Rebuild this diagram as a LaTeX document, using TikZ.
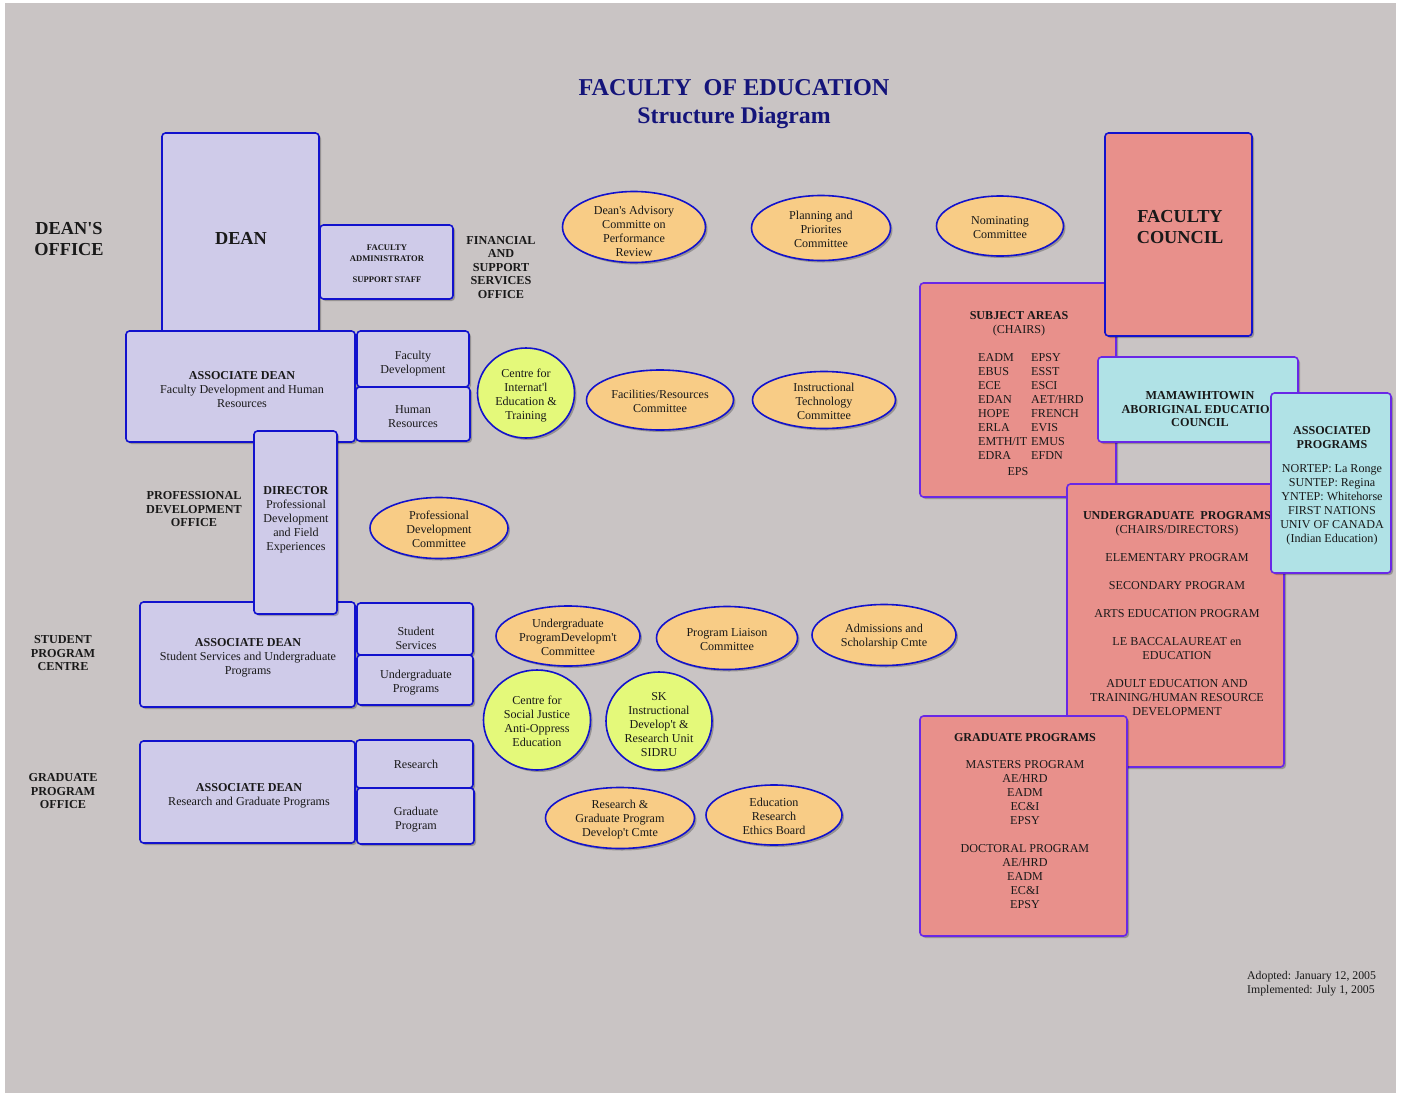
\documentclass[tikz,border=0pt]{standalone}
\usepackage{fontspec}
\setmainfont{Liberation Serif}
\usetikzlibrary{shapes.geometric,shadows}
\definecolor{bggray}{RGB}{201,196,196}
\definecolor{lav}{RGB}{207,203,233}
\definecolor{boxblue}{RGB}{18,18,205}
\definecolor{purp}{RGB}{105,40,230}
\definecolor{orng}{RGB}{248,204,134}
\definecolor{ygrn}{RGB}{228,249,122}
\definecolor{pinkf}{RGB}{232,144,139}
\definecolor{cyanf}{RGB}{176,226,230}
\definecolor{navy}{RGB}{20,20,122}
\newcommand\ap{\textquotesingle}
\begin{document}
\begin{tikzpicture}[x=1pt,y=-1pt,
  shd/.style={drop shadow={shadow xshift=2pt,shadow yshift=-2pt,fill=black,opacity=0.25}},
  box/.style={rectangle,rounded corners=3.5pt,line width=1.6pt,anchor=north west,inner sep=0pt,outer sep=0pt,shd},
  lbox/.style={box,draw=boxblue,fill=lav},
  pbox/.style={box,draw=purp,fill=pinkf},
  cbox/.style={box,draw=purp,fill=cyanf},
  comm/.style={ellipse,draw=boxblue,fill=orng,line width=1.6pt,inner sep=0pt,shd},
  ctr/.style={ellipse,draw=boxblue,fill=ygrn,line width=1.6pt,inner sep=0pt,shd},
  t/.style={font=\fontsize{12.1}{14}\selectfont,align=center,inner sep=0pt,text=black!90,yshift=-1.5pt},
  tb/.style={t,font=\bfseries\fontsize{12.2}{13.5}\selectfont},
  big/.style={t,font=\bfseries\fontsize{18.3}{21}\selectfont},
  lab/.style={t,font=\bfseries\fontsize{12.2}{13.5}\selectfont},
]
\useasboundingbox (0,0) rectangle (1401,1093);
\fill[white] (0,0) rectangle (1401,1093);
\fill[bggray] (5,3) rectangle (1396,1093);

% Title
\node[t,font=\bfseries\fontsize{24.2}{28}\selectfont,text=navy] (title) at (734,86) {FACULTY\ \ OF EDUCATION};
\node[t,font=\bfseries\fontsize{23.8}{28}\selectfont,text=navy] (subtitle) at (734,116) {Structure Diagram};

% Left labels
\node[big] (deansoffice) at (69,238) {DEAN\ap S\\OFFICE};
\node[lab] (finlab) at (501,266) {FINANCIAL\\AND\\SUPPORT\\SERVICES\\OFFICE};
\node[lab] (pdolab) at (194,508) {PROFESSIONAL\\DEVELOPMENT\\OFFICE};
\node[lab] (spclab) at (63,652) {STUDENT\\PROGRAM\\CENTRE};
\node[lab] (gpolab) at (63,790) {GRADUATE\\PROGRAM\\OFFICE};

% Dean's office boxes
\node[lbox,minimum width=157pt,minimum height=200pt] (dean) at (162,133) {};
\node[big] at (241,237) {DEAN};
\node[lbox,minimum width=133pt,minimum height=74pt] (facadmin) at (320,225) {};
\node[t,font=\bfseries\fontsize{8.6}{11}\selectfont] at (387,262) {FACULTY\\ADMINISTRATOR\\[10pt]SUPPORT STAFF};

\node[lbox,minimum width=229pt,minimum height=111pt] (ad1) at (126,331) {};
\node[t] at (242,388) {\textbf{ASSOCIATE DEAN}\\Faculty Development and Human\\Resources};
\node[lbox,minimum width=112pt,minimum height=56pt] (facdev) at (357,331) {};
\node[t] at (413,362) {Faculty\\Development};
\node[lbox,minimum width=114pt,minimum height=54pt] (humres) at (356,387) {};
\node[t] at (413,415) {Human\\Resources};

\node[lbox,minimum width=215pt,minimum height=105pt] (ad2) at (140,602) {};
\node[t] at (248,656) {\textbf{ASSOCIATE DEAN}\\Student Services and Undergraduate\\Programs};
\node[lbox,minimum width=116pt,minimum height=52pt] (studserv) at (357,603) {};
\node[t] at (416,637) {Student\\Services};
\node[lbox,minimum width=116pt,minimum height=50pt] (ugprog) at (357,655) {};
\node[t] at (416,681) {Undergraduate\\Programs};

\node[lbox,minimum width=83pt,minimum height=183pt] (director) at (254,431) {};
\node[t] at (296,518) {\textbf{DIRECTOR}\\Professional\\Development\\and Field\\Experiences};

\node[lbox,minimum width=215pt,minimum height=102pt] (ad3) at (140,741) {};
\node[t] at (249,794) {\textbf{ASSOCIATE DEAN}\\Research and Graduate Programs};
\node[lbox,minimum width=117pt,minimum height=48pt] (research) at (356,740) {};
\node[t] at (416,763) {Research};
\node[lbox,minimum width=117pt,minimum height=56pt] (gradprog) at (357,788) {};
\node[t] at (416,818) {Graduate\\Program};

% Committees
\node[comm,minimum width=143pt,minimum height=71pt] (dacpr) at (634,227) {};
\node[t] at (634,230) {Dean\ap s Advisory\\Committe on\\Performance\\Review};
\node[comm,minimum width=139pt,minimum height=65pt] (plan) at (821,228) {};
\node[t] at (plan) {Planning and\\Priorites\\Committee};
\node[comm,minimum width=127pt,minimum height=60pt] (nom) at (1000,226) {};
\node[t] at (nom) {Nominating\\Committee};

\node[ctr,minimum width=97pt,minimum height=90pt] (ciet) at (526,393) {};
\node[t] at (526,394) {Centre for\\Internat\ap l\\Education \&\\Training};
\node[comm,minimum width=147pt,minimum height=60pt] (facil) at (660,400) {};
\node[t] at (facil) {Facilities/Resources\\Committee};
\node[comm,minimum width=143pt,minimum height=57pt] (itc) at (824,400) {};
\node[t] at (itc) {Instructional\\Technology\\Committee};

\node[comm,minimum width=138pt,minimum height=61pt] (pdc) at (439,528) {};
\node[t] at (pdc) {Professional\\Development\\Committee};

\node[comm,minimum width=144pt,minimum height=60pt] (ugpdc) at (568,636) {};
\node[t] at (ugpdc) {Undergraduate\\ProgramDevelopm\ap t\\Committee};
\node[comm,minimum width=141pt,minimum height=63pt] (plc) at (727,638) {};
\node[t] at (plc) {Program Liaison\\Committee};
\node[comm,minimum width=144pt,minimum height=61pt] (asc) at (884,635) {};
\node[t] at (asc) {Admissions and\\Scholarship Cmte};

\node[ctr,minimum width=107pt,minimum height=100pt] (csj) at (537,720) {};
\node[t] at (csj) {Centre for\\Social Justice\\Anti-Oppress\\Education};
\node[ctr,minimum width=106pt,minimum height=98pt] (sidru) at (659,721) {};
\node[t] at (659,723) {SK\\Instructional\\Develop\ap t \&\\Research Unit\\SIDRU};

\node[comm,minimum width=149pt,minimum height=61pt] (rgpdc) at (620,818) {};
\node[t] at (rgpdc) {Research \&\\Graduate Program\\Develop\ap t Cmte};
\node[comm,minimum width=136pt,minimum height=60pt] (ereb) at (774,815) {};
\node[t] at (ereb) {Education\\Research\\Ethics Board};

% Right side
\node[pbox,minimum width=196pt,minimum height=214pt] (subj) at (920,283) {};
\node[t] at (1019,322) {\textbf{SUBJECT AREAS}\\(CHAIRS)};
\node[t,align=left,anchor=north west] (subjL) at (978,352) {EADM\\EBUS\\ECE\\EDAN\\HOPE\\ERLA\\EMTH/IT\\EDRA};
\node[t,align=left,anchor=north west] (subjR) at (1031,352) {EPSY\\ESST\\ESCI\\AET/HRD\\FRENCH\\EVIS\\EMUS\\EFDN};
\node[t] at (1018,470) {EPS};

\node[box,draw=boxblue,fill=pinkf,minimum width=147pt,minimum height=203pt] (fc) at (1105,133) {};
\node[big] at (1180,226) {FACULTY\\COUNCIL};

\node[cbox,minimum width=200pt,minimum height=85pt] (mama) at (1098,357) {};
\node[tb] at (1200,408) {MAMAWIHTOWIN\\ABORIGINAL EDUCATION\\COUNCIL};

\node[pbox,minimum width=217pt,minimum height=283pt] (ugp) at (1067,484) {};
\node[t,anchor=north] at (1177,510) {\textbf{UNDERGRADUATE\ \ PROGRAMS}\\(CHAIRS/DIRECTORS)\\[14pt]ELEMENTARY PROGRAM\\[14pt]SECONDARY PROGRAM\\[14pt]ARTS EDUCATION PROGRAM\\[14pt]LE BACCALAUREAT en\\EDUCATION\\[14pt]ADULT EDUCATION AND\\TRAINING/HUMAN RESOURCE\\DEVELOPMENT};

\node[pbox,minimum width=207pt,minimum height=220pt] (grp) at (920,716) {};
\node[t,anchor=north] at (1025,732) {\textbf{GRADUATE PROGRAMS}\\[13pt]MASTERS PROGRAM\\AE/HRD\\EADM\\EC\&I\\EPSY\\[14pt]DOCTORAL PROGRAM\\AE/HRD\\EADM\\EC\&I\\EPSY};

\node[cbox,minimum width=120pt,minimum height=180pt] (assoc) at (1271,393) {};
\node[t,anchor=north] at (1332,425) {\textbf{ASSOCIATED}\\\textbf{PROGRAMS}\\[10pt]NORTEP: La Ronge\\SUNTEP: Regina\\YNTEP: Whitehorse\\FIRST NATIONS\\UNIV OF CANADA\\(Indian Education)};

% Footer
\node[t,align=left,anchor=north west,font=\fontsize{11.8}{14}\selectfont] (foot) at (1247,970) {Adopted: January 12, 2005\\Implemented: July 1, 2005};
\end{tikzpicture}
\end{document}
